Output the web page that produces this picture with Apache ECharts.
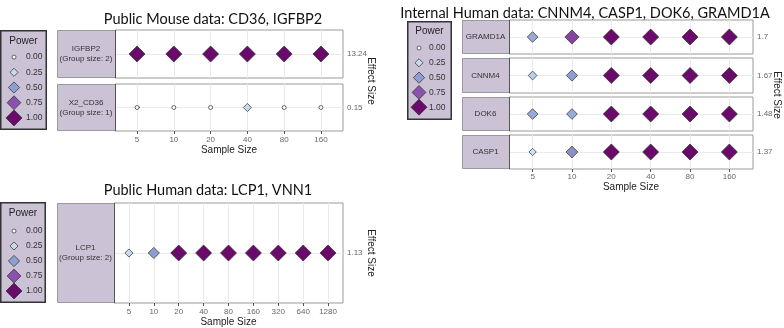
<!DOCTYPE html>
<html>
<head>
<meta charset="utf-8">
<script src="https://cdn.jsdelivr.net/npm/echarts@6/dist/echarts.min.js"></script>
<style>
  html, body { margin: 0; padding: 0; background: #fff; }
  #chart { width: 784px; height: 328px; }
</style>
</head>
<body>
<div id="chart"></div>
<script>
// legend levels
const powerLevels = [0, 0.25, 0.5, 0.75, 1];
const powerLabels = ['0.00', '0.25', '0.50', '0.75', '1.00'];

// public mouse data
const mouseSizes = ['5', '10', '20', '40', '80', '160'];
const mouseGenes = ['IGFBP2\n(Group size: 2)', 'X2_CD36\n(Group size: 1)'];
const mouseEffects = ['13.24', '0.15'];
const mousePower = [
    [1, 1, 1, 1, 1, 1],
    [0, 0, 0, 0.25, 0, 0]
];

// internal human data
const internalSizes = ['5', '10', '20', '40', '80', '160'];
const internalGenes = ['GRAMD1A', 'CNNM4', 'DOK6', 'CASP1'];
const internalEffects = ['1.7', '1.67', '1.48', '1.37'];
const internalPower = [
    [0.45, 0.8, 1, 1, 1, 1],
    [0.3, 0.5, 1, 1, 1, 1],
    [0.45, 0.45, 1, 1, 1, 1],
    [0.2, 0.55, 1, 1, 1, 1]
];

// public human data
const humanSizes = ['5', '10', '20', '40', '80', '160', '320', '640', '1280'];
const humanGenes = ['LCP1\n(Group size: 2)'];
const humanEffects = ['1.13'];
const humanPower = [
    [0.25, 0.5, 1, 1, 1, 1, 1, 1, 1]
];

const FONT = 'Liberation Sans';
const STRIP = '#cbc2d6';

// colour ramp for power
const colorStops = [[0, '#ffffff'], [0.25, '#c6dbef'], [0.5, '#8c9fd0'], [0.75, '#8b52ad'], [1, '#6a0a6a']];
function hex2rgb(h) {
    return [1, 3, 5].map(i => parseInt(h.substr(i, 2), 16));
}
function powerColor(p) {
    for (let i = 1; i < colorStops.length; i++) {
        if (p <= colorStops[i][0]) {
            const a = colorStops[i - 1], b = colorStops[i];
            const t = (p - a[0]) / (b[0] - a[0]);
            const ca = hex2rgb(a[1]), cb = hex2rgb(b[1]);
            return 'rgb(' + ca.map((v, k) => Math.round(v + (cb[k] - v) * t)).join(',') + ')';
        }
    }
    return colorStops[colorStops.length - 1][1];
}
function powerSize(p) {
    return p === 0 ? 4 : 2 + 14 * Math.pow(p, 0.6);
}
function powerSymbol(p) {
    return p === 0 ? 'circle' : 'diamond';
}

const panels = [
    {
        title: 'Public Mouse data: CD36, IGFBP2', titleX: 208, titleY: 7,
        sizes: mouseSizes, genes: mouseGenes, effects: mouseEffects, power: mousePower,
        legend: { x: 0, y: 30, w: 47, h: 100, powerY: 41, itemTop: 49.5, step: 15.2, symX: 14, labelX: 26 },
        stripX: 57, plotX: 115, plotR: 343, rows: [[30, 48], [84, 47]],
        tickMargin: 5, nameGap: 14, effectTitle: [371, 81]
    },
    {
        title: 'Internal Human data: CNNM4, CASP1, DOK6, GRAMD1A', titleX: 580, titleY: 1,
        sizes: internalSizes, genes: internalGenes, effects: internalEffects, power: internalPower,
        legend: { x: 407, y: 21, w: 45, h: 99, powerY: 31, itemTop: 40.6, step: 14.8, symX: 419, labelX: 429 },
        stripX: 462, plotX: 509, plotR: 753, rows: [[20, 34], [58, 35], [97, 34], [135, 34]],
        tickMargin: 4, nameGap: 11, effectTitle: [777, 95]
    },
    {
        title: 'Public Human data: LCP1, VNN1', titleX: 203, titleY: 178,
        sizes: humanSizes, genes: humanGenes, effects: humanEffects, power: humanPower,
        legend: { x: 0, y: 202, w: 46, h: 101, powerY: 213, itemTop: 223.5, step: 15, symX: 14, labelX: 26 },
        stripX: 57, plotX: 114, plotR: 343, rows: [[203, 100]],
        tickMargin: 5, nameGap: 13, effectTitle: [371, 253]
    }
];

const grid = [], xAxis = [], yAxis = [], series = [], graphic = [], title = [];

panels.forEach(panel => {
    title.push({
        text: panel.title, left: panel.titleX, top: panel.titleY, textAlign: 'center',
        textStyle: { fontFamily: 'Lato', fontSize: 14.5, fontWeight: 'normal', color: '#111' }
    });

    // legend box
    const lg = panel.legend;
    graphic.push({
        type: 'rect', shape: { x: lg.x + 0.75, y: lg.y + 0.75, width: lg.w - 1.5, height: lg.h - 1.5 },
        style: { fill: STRIP, stroke: '#333', lineWidth: 1.5 }, silent: true
    });
    graphic.push({
        type: 'text', x: lg.x + lg.w / 2, y: lg.powerY,
        style: { text: 'Power', fill: '#222', font: '10px "' + FONT + '"', textAlign: 'center', textVerticalAlign: 'middle' }
    });
    const lgIdx = grid.length;
    grid.push({ left: lg.symX - 8, width: 16, top: lg.itemTop, height: lg.step * powerLevels.length });
    xAxis.push({ gridIndex: lgIdx, type: 'value', min: 0, max: 1, show: false });
    yAxis.push({
        gridIndex: lgIdx, type: 'category', data: powerLabels, inverse: true, position: 'right',
        axisLine: { show: false }, axisTick: { show: false }, splitLine: { show: false },
        axisLabel: { margin: lg.labelX - lg.symX - 8, fontSize: 8.5, color: '#333', fontFamily: FONT }
    });
    series.push({
        type: 'scatter', xAxisIndex: lgIdx, yAxisIndex: lgIdx, silent: true,
        data: powerLevels.map((p, i) => [0.5, i, p]),
        symbol: v => powerSymbol(v[2]),
        symbolSize: v => powerSize(v[2]),
        itemStyle: { color: params => powerColor(params.data[2]), borderColor: '#2b2b2b', borderWidth: 0.7, opacity: 1 }
    });

    // effect size title
    graphic.push({
        type: 'text', x: panel.effectTitle[0], y: panel.effectTitle[1], rotation: -Math.PI / 2,
        style: { text: 'Effect Size', fill: '#222', font: '10px "' + FONT + '"', textAlign: 'center', textVerticalAlign: 'middle' }
    });

    const n = panel.sizes.length;
    const idx = panel.sizes.map((s, i) => i);
    panel.genes.forEach((gene, r) => {
        const [top, h] = panel.rows[r];
        const last = r === panel.genes.length - 1;
        // strip
        graphic.push({
            type: 'rect', shape: { x: panel.stripX + 0.5, y: top + 0.5, width: panel.plotX - panel.stripX, height: h - 1 },
            style: { fill: STRIP, stroke: '#9a9a9a', lineWidth: 1 }, silent: true
        });
        graphic.push({
            type: 'text', x: (panel.stripX + panel.plotX) / 2, y: top + h / 2,
            style: { text: gene, fill: '#333', font: '8px "' + FONT + '"', textAlign: 'center', textVerticalAlign: 'middle', lineHeight: 10 }
        });
        const gi = grid.length;
        grid.push({
            left: panel.plotX, top: top, width: panel.plotR - panel.plotX, height: h,
            show: true, backgroundColor: '#fff', borderColor: '#9a9a9a', borderWidth: 1
        });
        xAxis.push({
            gridIndex: gi, type: 'value', min: -0.6, max: n - 0.4,
            axisLine: { show: false },
            axisTick: { show: last, length: 3, lineStyle: { color: '#555' }, customValues: idx },
            axisLabel: {
                show: last, customValues: idx, margin: panel.tickMargin, fontSize: 8, color: '#666', fontFamily: FONT,
                formatter: v => panel.sizes[Math.round(v)]
            },
            splitLine: { show: true, lineStyle: { color: '#ebebeb', width: 1 } },
            name: last ? 'Sample Size' : '', nameLocation: 'middle', nameGap: panel.nameGap,
            nameTextStyle: { fontSize: 10, color: '#222', fontFamily: FONT }
        });
        yAxis.push({
            gridIndex: gi, type: 'value', min: 0, max: 2, position: 'right',
            axisLine: { show: false },
            axisTick: { show: true, length: 3, lineStyle: { color: '#555' }, customValues: [1] },
            axisLabel: {
                customValues: [1], margin: 4, fontSize: 8, color: '#666', fontFamily: FONT,
                formatter: () => panel.effects[r]
            },
            splitLine: { show: true, lineStyle: { color: '#ebebeb', width: 1 } }
        });
        series.push({
            type: 'scatter', xAxisIndex: gi, yAxisIndex: gi, silent: true,
            data: panel.power[r].map((p, i) => [i, 1, p]),
            symbol: v => powerSymbol(v[2]),
            symbolSize: v => powerSize(v[2]),
            itemStyle: { color: params => powerColor(params.data[2]), borderColor: '#2b2b2b', borderWidth: 0.7, opacity: 1 }
        });
        // dark divider between strip and panel
        graphic.push({
            type: 'line', shape: { x1: panel.plotX + 0.5, y1: top, x2: panel.plotX + 0.5, y2: top + h },
            style: { stroke: '#555', lineWidth: 1 }, silent: true, z: 100
        });
    });
});

const myChart = echarts.init(document.getElementById('chart'), null, { renderer: 'canvas' });
myChart.setOption({
    animation: false,
    backgroundColor: '#fff',
    title: title,
    grid: grid,
    xAxis: xAxis,
    yAxis: yAxis,
    series: series,
    graphic: { elements: graphic }
});
</script>
</body>
</html>
